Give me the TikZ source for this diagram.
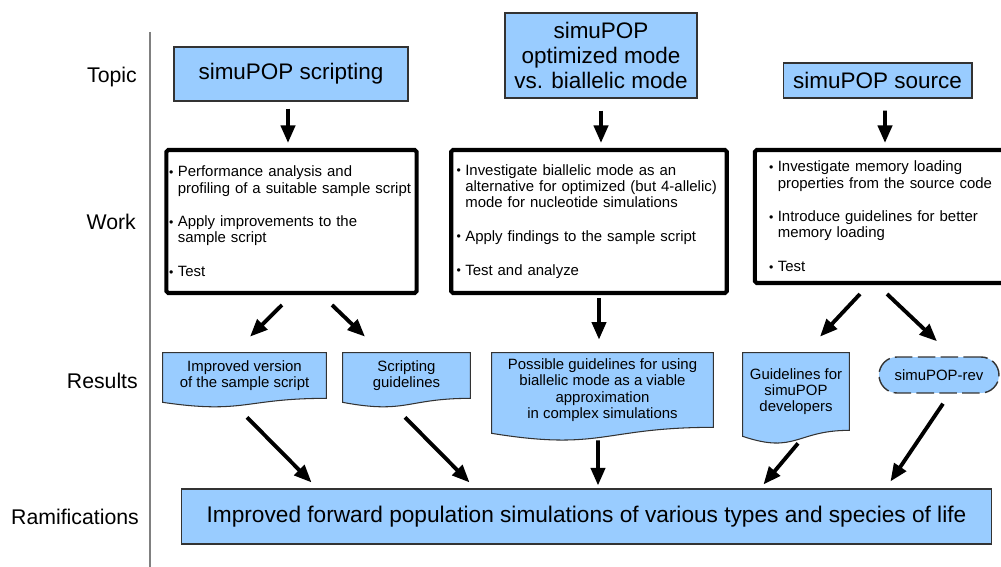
\documentclass[tikz,border=0pt]{standalone}
\usepackage{fontspec}
\setmainfont{Liberation Sans}
\usetikzlibrary{arrows.meta,backgrounds}
\definecolor{sky}{HTML}{99CCFF}
\tikzset{>=Triangle}
\tikzset{
  topic/.style={draw=black!80, fill=sky, line width=0.6pt, align=center, inner sep=0pt,
    font=\fontsize{12.8}{14.2}\selectfont},
  work/.style={draw, line width=2.3pt, rounded corners=1pt, fill=white, align=left,
    inner ysep=0pt, font=\fontsize{8.5}{9.2}\selectfont},
  result/.style={inner sep=0pt, align=center, font=\fontsize{8.5}{9.3}\selectfont},
  docbox/.style={draw=black!80, fill=sky, line width=0.6pt},
  arr/.style={-{Triangle[length=10pt,width=8pt]}, line width=2.2pt},
  row/.style={anchor=east, font=\fontsize{12.1}{14}\selectfont},
}
\newcommand\wb{\makebox[5pt][l]{\raisebox{0.3pt}{\scriptsize\textbullet}}}
\newcommand\wi{\hspace*{5pt}}
% document shape below a result node: #1 node, #2 wave depth
\newcommand\docpath[2]{(#1.north west) -- (#1.north east) -- (#1.south east)
  .. controls (#1.south) and ([shift={(0,2*#2)}]#1.south) .. ([shift={(0,0.5*#2)}]#1.south west) -- cycle}

\begin{document}
\begin{tikzpicture}[x=0.02cm,y=-0.02cm]
\clip (0,0) rectangle (1001,567);
% row labels
\node[row] (lTopic) at (143,77) {Topic};
\node[row] (lWork) at (142,222) {Work};
\node[row] (lResults) at (144,381) {Results};
\node[row] (lRam) at (145,517) {Ramifications};
\draw[black!50, line width=1.1pt] (150,32) -- (150,567);

% topics
\node[topic, minimum width=4.68cm, minimum height=1.08cm] (t1) at (291,74) {simuPOP scripting};
\node[topic, minimum width=3.84cm, minimum height=1.70cm] (t2) at (601,55.5) {simuPOP\\optimized mode\\vs. biallelic mode};
\node[topic, minimum width=3.78cm, minimum height=0.70cm] (t3) at (877.5,80.5) {simuPOP source};

% work
\node[work, text width=4.9cm, inner xsep=1.5pt, minimum height=2.86cm] (w1) at (291.5,221.5)
  {\wb Performance analysis and\\ \wi profiling of a suitable sample script\\[10pt]
   \wb Apply improvements to the\\ \wi sample script\\[10pt] \wb Test};
\node[work, text width=5.3cm, inner xsep=3pt, minimum height=2.86cm] (w2) at (589,221.5)
  {\wb Investigate biallelic mode as an\\ \wi alternative for optimized (but 4-allelic)\\
   \wi mode for nucleotide simulations\\[10pt] \wb Apply findings to the sample script\\[10pt]
   \wb Test and analyze};
\node[work, text width=4.8cm, inner xsep=8pt, minimum height=2.66cm] (w3) at (889,216.5)
  {\wb Investigate memory loading\\ \wi properties from the source code\\[10pt]
   \wb Introduce guidelines for better\\ \wi memory loading\\[10pt] \wb Test};

% results
\node[result, minimum width=3.26cm, minimum height=0.9cm] (r1) at (244.5,375.5) {Improved version\\of the sample script};
\node[result, minimum width=2.54cm, minimum height=0.9cm] (r2) at (406.5,375.5) {Scripting\\guidelines};
\node[result, minimum width=4.42cm, minimum height=1.48cm] (r3) at (602.5,390)
  {Possible guidelines for using\\biallelic mode as a viable\\approximation\\in complex simulations};
\node[result, minimum width=2.12cm, minimum height=1.54cm] (r4) at (796,391.5) {Guidelines for\\simuPOP\\developers};
\node[result, draw=black!80, fill=sky, line width=0.8pt, dash pattern=on 10pt off 3pt,
  rounded corners=0.36cm, minimum width=2.4cm, minimum height=0.72cm] (r5) at (939,375) {simuPOP-rev};
\begin{scope}[on background layer]
\draw[docbox] \docpath{r1}{8};
\draw[docbox] \docpath{r2}{8};
\draw[docbox] \docpath{r3}{12};
\draw[docbox] \docpath{r4}{12};
\end{scope}

% ramifications
\node[topic, minimum width=16.22cm, minimum height=1.1cm, font=\fontsize{12.9}{15}\selectfont] (R) at (586.5,516.5)
  {Improved forward population simulations of various types and species of life};

% arrows
\draw[arr] ([shift={(-3,7)}]t1.south) -- ([shift={(-3.5,-5)}]w1.north);
\draw[arr] ([shift={(0,12)}]t2.south) -- ([shift={(12,-5)}]w2.north);
\draw[arr] ([shift={(7.5,12)}]t3.south) -- ([shift={(-4,-5)}]w3.north);
\draw[arr] ([shift={(-9.5,10)}]w1.south) -- ([shift={(5.5,-16)}]r1.north);
\draw[arr] ([shift={(40.5,10)}]w1.south) -- ([shift={(-41.5,-16)}]r2.north);
\draw[arr] ([shift={(10,3)}]w2.south) -- ([shift={(-3.5,-13)}]r3.north);
\draw[arr] ([shift={(-29,9)}]w3.south) -- ([shift={(24,-16)}]r4.north);
\draw[arr] ([shift={(-2,9)}]w3.south) -- ([shift={(-2,-15)}]r5.north);
\draw[arr] ([shift={(2.5,19)}]r1.south) -- ([shift={(131,-6)}]R.north west);
\draw[arr] ([shift={(-1.5,19)}]r2.south) -- ([shift={(289,-6)}]R.north west);
\draw[arr] ([shift={(-4.5,13)}]r3.south) -- ([shift={(11.5,-3)}]R.north);
\draw[arr] ([shift={(2,13)}]r4.south) -- ([shift={(-229,-4)}]R.north east);
\draw[arr] ([shift={(4,10)}]r5.south) -- ([shift={(-102,-7)}]R.north east);
\end{tikzpicture}
\end{document}
